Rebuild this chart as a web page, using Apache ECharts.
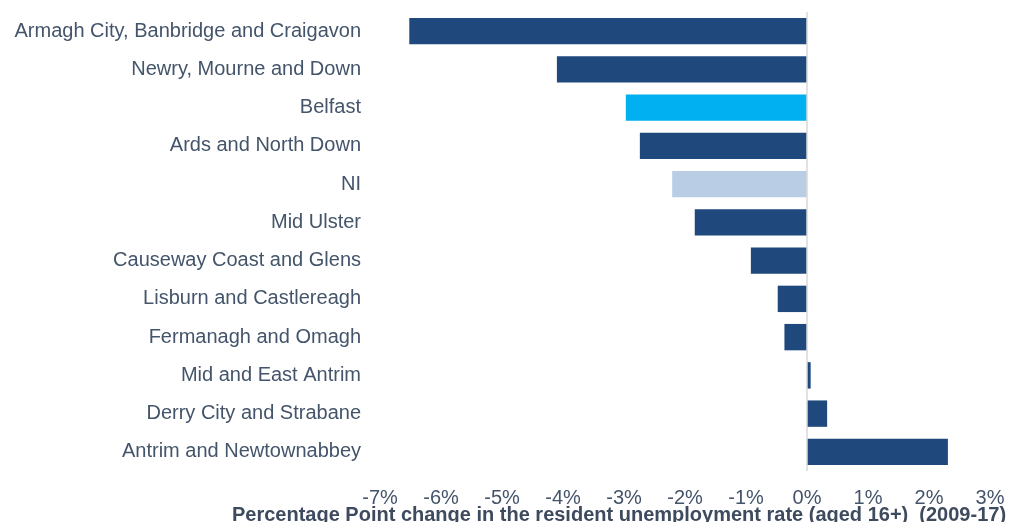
<!DOCTYPE html>
<html>
<head>
<meta charset="utf-8">
<script src="https://cdn.jsdelivr.net/npm/echarts@6/dist/echarts.min.js"></script>
<style>
html, body { margin: 0; padding: 0; background: #fff; }
#main { width: 1012px; height: 522px; }
</style>
</head>
<body>
<div id="main"></div>
<script>
var areas = ['Armagh City, Banbridge and Craigavon', 'Newry, Mourne and Down', 'Belfast',
    'Ards and North Down', 'NI', 'Mid Ulster', 'Causeway Coast and Glens',
    'Lisburn and Castlereagh', 'Fermanagh and Omagh', 'Mid and East Antrim',
    'Derry City and Strabane', 'Antrim and Newtownabbey'];
var change = [-6.52, -4.10, -2.97, -2.74, -2.21, -1.84, -0.92, -0.48, -0.37, 0.06, 0.33, 2.31];
var xTicks = [-7, -6, -5, -4, -3, -2, -1, 0, 1, 2, 3];
var axisTitle = 'Percentage Point change in the resident unemployment rate (aged 16+)  (2009-17)';

var textColor = '#44546a';

var myChart = echarts.init(document.getElementById('main'));
myChart.setOption({
    animation: false,
    grid: {
        left: 380,
        right: 22,
        top: 12,
        bottom: 51,
        containLabel: false,
        outerBoundsMode: 'none'
    },
    xAxis: {
        type: 'value',
        min: xTicks[0],
        max: xTicks[xTicks.length - 1],
        interval: 1,
        axisLine: {show: false},
        axisTick: {show: false},
        splitLine: {show: false},
        axisLabel: {
            color: textColor,
            fontFamily: 'Liberation Sans',
            fontSize: 20,
            margin: 17,
            formatter: function (value) {
                return value + '%';
            }
        },
        name: axisTitle,
        nameLocation: 'middle',
        nameGap: 34,
        nameMoveOverlap: false,
        nameTextStyle: {
            color: '#3e4b5e',
            fontFamily: 'Liberation Sans',
            fontSize: 20,
            fontWeight: 'bold',
            padding: [0, 132, 0, 0]
        }
    },
    yAxis: {
        type: 'category',
        inverse: true,
        data: areas,
        axisLine: {show: false, onZero: false},
        axisTick: {show: false},
        axisLabel: {
            color: textColor,
            fontFamily: 'Liberation Sans',
            fontSize: 20,
            margin: 19
        }
    },
    series: [
        {
            type: 'bar',
            data: change,
            barCategoryGap: '31%',
            itemStyle: {
                color: function (params) {
                    if (areas[params.dataIndex] == 'Belfast')
                        return '#00b0f0';
                    else if (areas[params.dataIndex] == 'NI')
                        return '#b9cde5';
                    else
                        return '#1f497d';
                }
            },
            markLine: {
                silent: true,
                symbol: 'none',
                label: {show: false},
                lineStyle: {color: '#d9d9d9', type: 'solid', width: 1.5},
                data: [{xAxis: 0}]
            }
        }
    ]
});
</script>
</body>
</html>
